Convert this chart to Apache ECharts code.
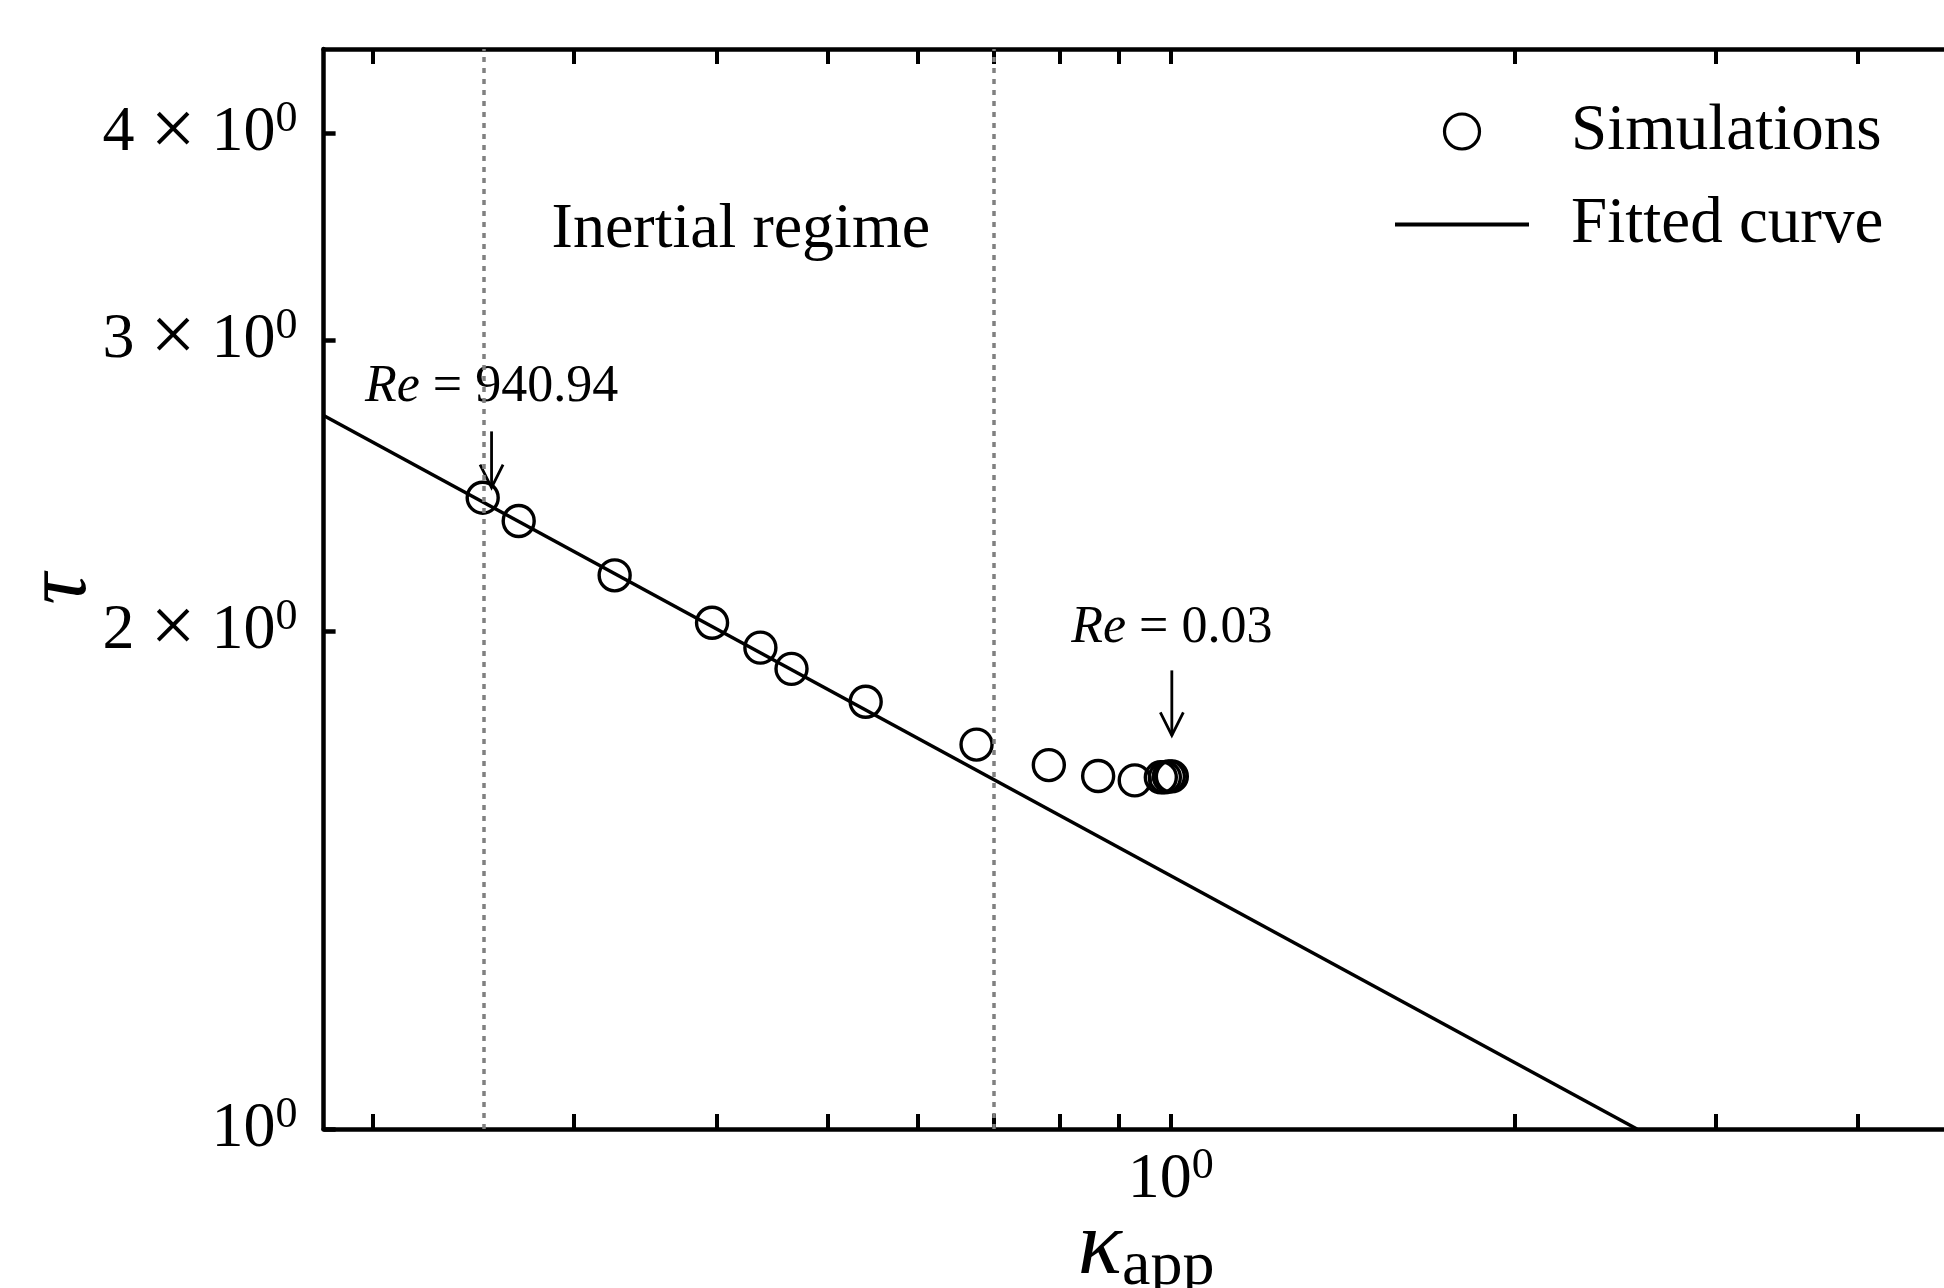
<!DOCTYPE html>
<html>
<head>
<meta charset="utf-8">
<script src="https://cdn.jsdelivr.net/npm/echarts@6/dist/echarts.min.js"></script>
<style>
  html, body { margin: 0; padding: 0; background: #fff; }
  #chart { width: 1944px; height: 1288px; }
</style>
</head>
<body>
<div id="chart"></div>
<script>
// simulations: apparent kappa vs tau
const kappa = [0.2495, 0.2683, 0.3256, 0.3963, 0.4369, 0.4652, 0.5403, 0.6757, 0.7818, 0.8636, 0.9298, 0.980, 0.988, 0.996, 1.002];
const tau = [2.409, 2.332, 2.162, 2.024, 1.955, 1.898, 1.813, 1.708, 1.660, 1.635, 1.625, 1.632, 1.632, 1.634, 1.634];

// fitted curve (straight in log-log), end points
const fitKappa = [0.181, 2.561];
const fitTau = [2.701, 1.0];

// dotted bounds of the inertial regime
const regimeBounds = [0.25, 0.70];

// ticks
const xTicks = [0.2, 0.3, 0.4, 0.5, 0.6, 0.7, 0.8, 0.9, 1, 2, 3, 4];
const xLabels = [1];
const yTicks = [1, 2, 3, 4];

// annotations (data coordinates)
const annoRe = ['940.94', '0.03'];
const annoKappa = [0.254, 1.002];
const annoTipTau = [2.443, 1.730];
const annoTailTau = [2.642, 1.894];
const annoTextTau = [2.75, 1.966];
const regimeLabel = 'Inertial regime';
const regimeKappa = 0.42;
const regimeTau = 3.495;

const FONT = "'Liberation Serif', 'DejaVu Serif', serif";

const chart = echarts.init(document.getElementById('chart'), null, { renderer: 'canvas' });

const tickRich = {
  a: { fontFamily: FONT, fontSize: 64, color: '#000', lineHeight: 72 },
  m: { fontFamily: FONT, fontSize: 80, color: '#000', lineHeight: 72 },
  s: { fontFamily: FONT, fontSize: 44, color: '#000', lineHeight: 40, verticalAlign: 'top' }
};

const axisLineStyle = { color: '#000', width: 4.5 };

const xAxisBase = {
  type: 'log',
  logBase: 10,
  min: 0.181,
  max: 5,
  axisLine: { show: true, onZero: false, lineStyle: axisLineStyle },
  axisTick: { show: true, inside: true, length: 15, customValues: xTicks, lineStyle: { color: '#000', width: 4 } },
  minorTick: { show: false },
  splitLine: { show: false }
};

const option = {
  animation: false,
  backgroundColor: '#fff',
  grid: { left: 323.6, right: -24.6, top: 49, bottom: 159, outerBoundsMode: 'none', containLabel: false },
  legend: {
    orient: 'vertical',
    left: 1388,
    top: 94,
    itemWidth: 134,
    itemHeight: 35,
    itemGap: 28,
    selectedMode: false,
    textStyle: { fontFamily: FONT, fontSize: 65, color: '#000', padding: [0, 0, 0, 37] },
    data: [
      { name: 'Simulations', icon: 'circle', itemStyle: { color: 'rgba(0,0,0,0)', borderColor: '#000', borderWidth: 3.2, opacity: 1 } },
      { name: 'Fitted curve', itemStyle: { color: 'rgba(0,0,0,0)', borderColor: 'rgba(0,0,0,0)', borderWidth: 0 }, lineStyle: { color: '#000', width: 4 } }
    ]
  },
  xAxis: [
    Object.assign({}, xAxisBase, {
      position: 'bottom',
      name: '{k|κ}{s|app}',
      nameLocation: 'middle',
      nameGap: 70,
      nameMoveOverlap: false,
      nameTextStyle: {
        rich: {
          k: { fontFamily: FONT, fontStyle: 'italic', fontSize: 92, color: '#000', lineHeight: 100 },
          s: { fontFamily: FONT, fontSize: 64, color: '#000', lineHeight: 75, verticalAlign: 'bottom' }
        }
      },
      axisLabel: {
        show: true,
        customValues: xLabels,
        margin: 15,
        formatter: () => '{a|10}{s|0}',
        rich: tickRich
      }
    }),
    Object.assign({}, xAxisBase, {
      position: 'top',
      axisLabel: { show: false }
    })
  ],
  yAxis: [{
    type: 'log',
    logBase: 10,
    min: 1,
    max: 4.5,
    position: 'left',
    name: 'τ',
    nameLocation: 'middle',
    nameRotate: 90,
    nameGap: 218,
    nameMoveOverlap: false,
    nameTextStyle: { fontFamily: FONT, fontStyle: 'italic', fontSize: 88, color: '#000' },
    axisLine: { show: true, onZero: false, lineStyle: axisLineStyle },
    axisTick: { show: true, inside: true, length: 12, customValues: yTicks, lineStyle: { color: '#000', width: 4.5 } },
    minorTick: { show: false },
    splitLine: { show: false },
    axisLabel: {
      show: true,
      customValues: yTicks,
      margin: 26,
      formatter: (v) => {
        const n = Math.round(v);
        return n === 1 ? '{a|10}{s|0}' : '{a|' + n + ' }{m|×}{a| 10}{s|0}';
      },
      rich: tickRich
    }
  }],
  series: [
    {
      name: 'Fitted curve',
      type: 'line',
      data: fitKappa.map((k, i) => [k, fitTau[i]]),
      symbol: 'none',
      itemStyle: { color: '#000' },
      lineStyle: { color: '#000', width: 3.6 },
      silent: true,
      markLine: {
        silent: true,
        symbol: ['none', 'none'],
        label: { show: false },
        lineStyle: { color: '#808080', type: [5, 6], width: 3.5 },
        data: regimeBounds.map((v) => ({ xAxis: v }))
      }
    },
    {
      name: 'Simulations',
      type: 'scatter',
      data: kappa.map((k, i) => [k, tau[i]]),
      symbol: 'circle',
      symbolSize: 31,
      itemStyle: { color: 'rgba(0,0,0,0)', borderColor: '#000', borderWidth: 3.4, opacity: 1 },
      silent: true,
      z: 3
    }
  ]
};

chart.setOption(option);

// annotations placed from data coordinates through the chart's own scales
const toPx = (k, t) => chart.convertToPixel({ xAxisIndex: 0, yAxisIndex: 0 }, [k, t]);
const graphics = [];
annoRe.forEach((re, i) => {
  const tip = toPx(annoKappa[i], annoTipTau[i]);
  const tail = toPx(annoKappa[i], annoTailTau[i]);
  const txt = toPx(annoKappa[i], annoTextTau[i]);
  graphics.push({
    type: 'line', silent: true,
    shape: { x1: tail[0], y1: tail[1], x2: tip[0], y2: tip[1] },
    style: { stroke: '#000', lineWidth: 2.8 }
  });
  graphics.push({
    type: 'polyline', silent: true,
    shape: { points: [[tip[0] - 11.5, tip[1] - 23], [tip[0], tip[1]], [tip[0] + 11.5, tip[1] - 23]] },
    style: { stroke: '#000', lineWidth: 2.8, fill: null }
  });
  graphics.push({
    type: 'text', silent: true,
    x: txt[0], y: txt[1] - 0.3 * 52,
    style: {
      text: '{i|Re} = ' + re,
      fontFamily: FONT, fontSize: 52, fill: '#000',
      align: 'center', verticalAlign: 'middle',
      rich: { i: { fontFamily: FONT, fontSize: 52, fontStyle: 'italic', fill: '#000' } }
    }
  });
});
const rp = toPx(regimeKappa, regimeTau);
graphics.push({
  type: 'text', silent: true,
  x: rp[0], y: rp[1],
  style: { text: regimeLabel, fontFamily: FONT, fontSize: 64, fill: '#000', align: 'center', verticalAlign: 'middle' }
});
chart.setOption({ graphic: graphics });
</script>
</body>
</html>
